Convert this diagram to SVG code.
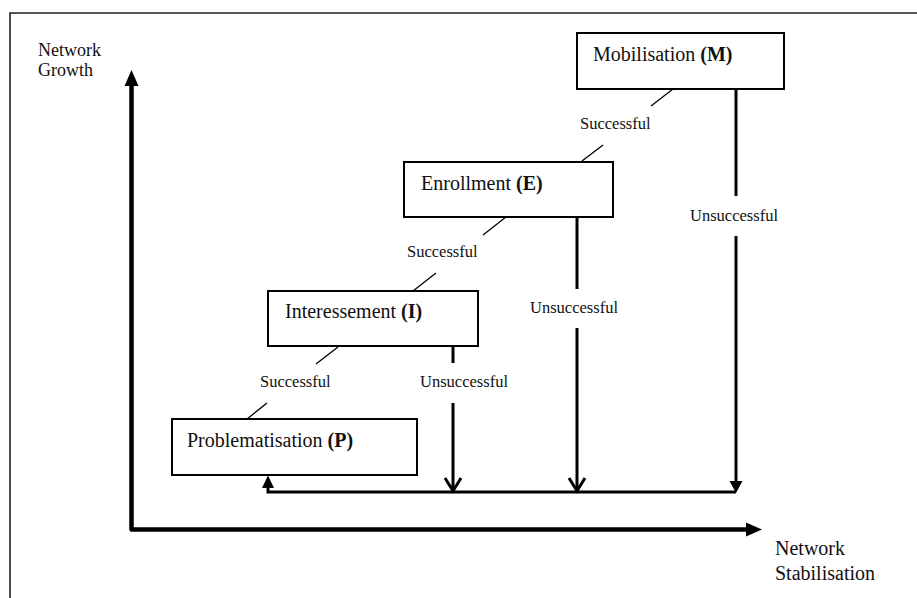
<svg xmlns="http://www.w3.org/2000/svg" width="917" height="598" viewBox="0 0 917 598">
  <style>
    .frame { fill: none; stroke: #222; stroke-width: 1.6; }
    .box { fill: #fff; stroke: #000; stroke-width: 2; }
    .lbl { font-family: "Liberation Serif", "Times New Roman", serif; font-size: 20px; fill: #111; }
    .lbl .b { font-weight: bold; }
    .small { font-family: "Liberation Serif", "Times New Roman", serif; font-size: 16.5px; fill: #111; }
    .axis-lbl { font-family: "Liberation Serif", "Times New Roman", serif; fill: #111; }
    .axis { fill: none; stroke: #000; stroke-width: 4.5; stroke-linejoin: round; }
    .succ { fill: none; stroke: #000; stroke-width: 1.3; }
    .fail { fill: none; stroke: #000; stroke-width: 3; }
    .chev { fill: none; stroke: #000; stroke-width: 3; stroke-linejoin: miter; }
    .head { fill: #000; stroke: none; }
  </style>

  <rect width="917" height="598" fill="#fff"/>

  <!-- outer frame (top and left edges) -->
  <path class="frame" d="M10,598 V13 H917"/>

  <!-- axes -->
  <g id="axes">
    <path class="axis" d="M131.5,82 V529.5 H750"/>
    <polygon class="head" points="131.5,70 124.5,86 138.5,86"/>
    <polygon class="head" points="762,529.5 746,522.5 746,536.5"/>
    <text class="axis-lbl" font-size="18" x="38" y="56">Network</text>
    <text class="axis-lbl" font-size="18" x="38" y="76">Growth</text>
    <text class="axis-lbl" font-size="20" x="775" y="555">Network</text>
    <text class="axis-lbl" font-size="20" x="775" y="580">Stabilisation</text>
  </g>

  <!-- stage nodes -->
  <g id="node-mobilisation">
    <rect class="box" x="577" y="33" width="207" height="56"/>
    <text class="lbl" x="593" y="61">Mobilisation <tspan class="b">(M)</tspan></text>
  </g>
  <g id="node-enrollment">
    <rect class="box" x="404" y="162" width="209" height="55"/>
    <text class="lbl" x="421" y="190">Enrollment <tspan class="b">(E)</tspan></text>
  </g>
  <g id="node-interessement">
    <rect class="box" x="268" y="291" width="210" height="55"/>
    <text class="lbl" x="285" y="318">Interessement <tspan class="b">(I)</tspan></text>
  </g>
  <g id="node-problematisation">
    <rect class="box" x="172" y="419" width="245" height="56"/>
    <text class="lbl" x="187" y="447">Problematisation <tspan class="b">(P)</tspan></text>
  </g>

  <!-- connectors -->
  <g id="connectors">
    <!-- successful transitions -->
    <line class="succ" x1="673" y1="89" x2="651" y2="106"/>
    <line class="succ" x1="582" y1="161" x2="603" y2="145"/>
    <line class="succ" x1="506" y1="217" x2="483" y2="235"/>
    <line class="succ" x1="413" y1="291" x2="436" y2="273"/>
    <line class="succ" x1="338" y1="347" x2="316" y2="364"/>
    <line class="succ" x1="267" y1="403" x2="247" y2="419"/>

    <!-- unsuccessful drops -->
    <line class="fail" x1="453" y1="346" x2="453" y2="363"/>
    <line class="fail" x1="453" y1="403" x2="453" y2="491"/>
    <polyline class="chev" points="445,478 453,491 461,478"/>

    <line class="fail" x1="577" y1="217" x2="577" y2="289"/>
    <line class="fail" x1="577" y1="328" x2="577" y2="491"/>
    <polyline class="chev" points="569,478 577,491 585,478"/>

    <line class="fail" x1="736" y1="89" x2="736" y2="196"/>
    <line class="fail" x1="736" y1="236" x2="736" y2="482"/>
    <polygon class="head" points="736,493 729.5,481 742.5,481"/>

    <!-- return path to problematisation -->
    <path class="fail" d="M736,492 H268 V486"/>
    <polygon class="head" points="268,475.5 262,488 274,488"/>

    <!-- labels -->
    <text class="small" x="580" y="129">Successful</text>
    <text class="small" x="407" y="257">Successful</text>
    <text class="small" x="260" y="387">Successful</text>
    <text class="small" x="420" y="387">Unsuccessful</text>
    <text class="small" x="530" y="313">Unsuccessful</text>
    <text class="small" x="690" y="221">Unsuccessful</text>
  </g>
</svg>
